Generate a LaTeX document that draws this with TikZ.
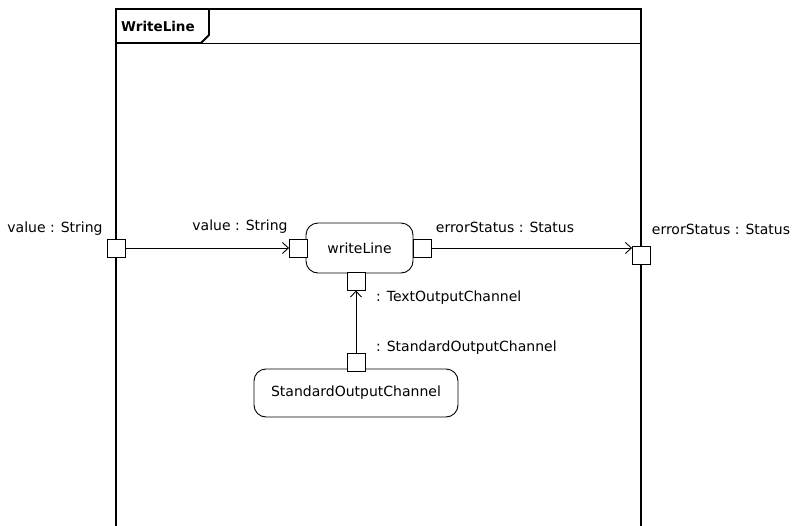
\documentclass[tikz,border=0pt]{standalone}
\usepackage{fontspec}
\setmainfont{DejaVu Sans}
\usetikzlibrary{arrows.meta}
\begin{document}
\begin{tikzpicture}[x=1pt,y=-1pt,
  every node/.style={font=\fontsize{14}{16}\selectfont},
  pin/.style={draw,fill=white,minimum width=18pt,minimum height=18pt,inner sep=0pt,line width=0.9pt},
  action/.style={draw,rounded corners=12pt,inner sep=0pt,line width=0.9pt,fill=white},
  lbl/.style={inner sep=1pt},
  arr/.style={line width=0.9pt,-{Straight Barb[length=6pt,width=11pt,line width=0.9pt]}},
  framel/.style={line width=1.8pt}]
\useasboundingbox (0,0) rectangle (795,525);
\clip (0,0) rectangle (795,525);
% frame
\draw[framel] (116,535) -- (116,9) -- (641,9) -- (641,535);
\draw[line width=0.8pt] (201,43) -- (641,43);
\draw[framel] (116,43) -- (201,43) -- (209,35) -- (209,9);
\node[lbl,anchor=west,font=\fontsize{13.5}{15}\selectfont\bfseries] (title) at (120,26) {WriteLine};
% actions
\node[action,minimum width=107pt,minimum height=50pt] (wl) at (359.5,248) {writeLine};
\node[action,minimum width=204pt,minimum height=48pt] (soc) at (356,393) {StandardOutputChannel};
% pins
\node[pin] (pinL) at (116.5,248) {};
\node[pin] (pinWin) at (298.5,248) {};
\node[pin] (pinWout) at (422,248) {};
\node[pin] (pinR) at (641.5,255.5) {};
\node[pin] (pinWbot) at (356,281) {};
\node[pin] (pinS) at (356,362.5) {};
% connectors
\draw[arr] (pinL.east) -- (pinWin.west);
\draw[arr] (pinWout.east) -- (pinR.west |- pinWout.east);
\draw[arr] (pinS.north) -- (pinWbot.south);
% labels
\node[lbl] (lL) at (55,229) {value : String};
\node[lbl] (lWin) at (240,227) {value : String};
\node[lbl] (lWout) at (505,227) {errorStatus : Status};
\node[lbl] (lR) at (721,229) {errorStatus : Status};
\node[lbl,anchor=west] (lT) at (375,298) {: TextOutputChannel};
\node[lbl,anchor=west] (lS) at (375,348) {: StandardOutputChannel};
\end{tikzpicture}
\end{document}
